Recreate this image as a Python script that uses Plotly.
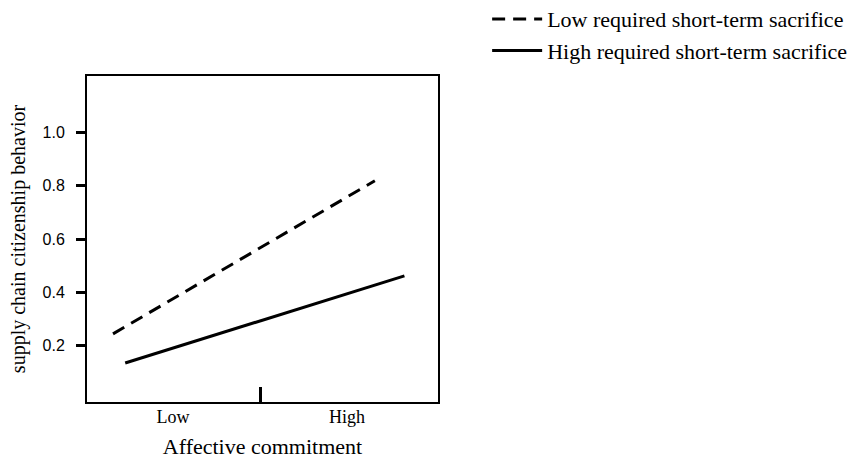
import plotly.graph_objects as go

# Data
series_names = ["Low required short-term sacrifice", "High required short-term sacrifice"]
low_sacrifice_x = [-1.69, 1.32]
low_sacrifice_y = [0.245, 0.818]
high_sacrifice_x = [-1.55, 1.66]
high_sacrifice_y = [0.136, 0.462]
x_tick_vals = [-1, 1]
x_tick_text = ["Low", "High"]
y_tick_vals = [0.2, 0.4, 0.6, 0.8, 1.0]
y_tick_text = ["0.2", "0.4", "0.6", "0.8", "1.0"]
x_mid = [0]

x_range = [-1.989, 2.046]
y_range = [-0.01, 1.21]

serif = "Liberation Serif, Times New Roman, serif"
sans = "Liberation Sans, Arial, sans-serif"

fig = go.Figure()
fig.add_trace(go.Scatter(
    x=low_sacrifice_x, y=low_sacrifice_y, mode="lines", name=series_names[0],
    line=dict(color="black", width=3, dash="13px,8px"), legendgroup="a"))
fig.add_trace(go.Scatter(
    x=high_sacrifice_x, y=high_sacrifice_y, mode="lines", name=series_names[1],
    line=dict(color="black", width=3), legendgroup="b"))

fig.update_layout(
    width=861, height=459,
    margin=dict(l=87, r=423, t=76, b=57, autoexpand=False),
    paper_bgcolor="white", plot_bgcolor="white",
    showlegend=True,
    legend=dict(x=1.14, xanchor="left", y=1.239, yanchor="top",
                font=dict(family=serif, size=22, color="black"),
                traceorder="grouped", tracegroupgap=0, itemwidth=50,
                bgcolor="rgba(0,0,0,0)"),
    xaxis=dict(range=x_range, tickvals=x_tick_vals, ticktext=x_tick_text,
               ticks="", showgrid=False, zeroline=False,
               showline=True, mirror=True, linecolor="black", linewidth=2,
               ticklabelstandoff=-3,
               tickfont=dict(family=serif, size=18, color="black"),
               title=dict(text="Affective commitment", standoff=19,
                          font=dict(family=serif, size=22, color="black"))),
    xaxis2=dict(range=x_range, overlaying="x", anchor="y", side="bottom",
                tickvals=x_mid, ticks="inside", ticklen=15, tickwidth=3,
                tickcolor="black", showticklabels=False, showgrid=False,
                zeroline=False, showline=False),
    yaxis=dict(range=y_range, tickvals=y_tick_vals, ticktext=y_tick_text,
               ticks="outside", ticklen=9, tickwidth=3, tickcolor="black",
               showgrid=False, zeroline=False,
               showline=True, mirror=True, linecolor="black", linewidth=2,
               ticklabelstandoff=8,
               tickfont=dict(family=sans, size=16, color="black"),
               title=dict(text="supply chain citizenship behavior", standoff=12,
                          font=dict(family=serif, size=20, color="black"))),
)
# invisible trace to activate xaxis2
fig.add_trace(go.Scatter(x=x_mid, y=[None], xaxis="x2", yaxis="y",
                         showlegend=False, hoverinfo="skip", mode="lines"))

fig.write_html("out.html", config={"displayModeBar": False},
               post_script="document.body.style.margin='0';")
